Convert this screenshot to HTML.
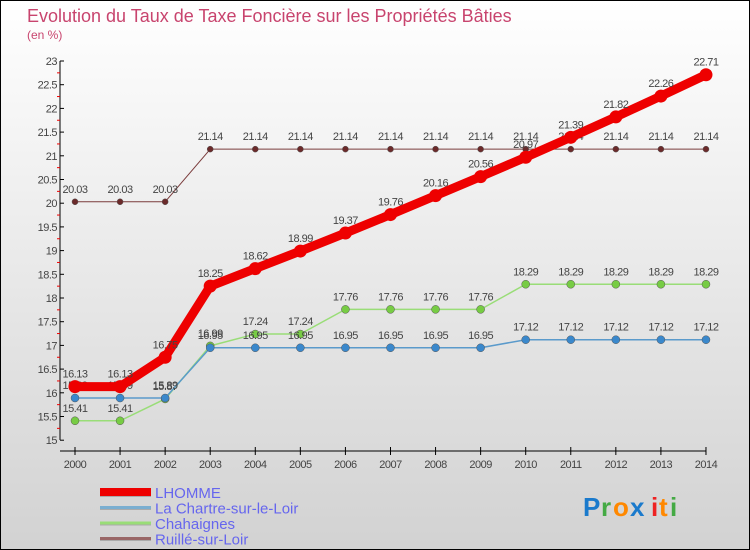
<!DOCTYPE html>
<html><head><meta charset="utf-8"><style>
body{margin:0}
#c{width:750px;height:550px;position:relative;background:linear-gradient(#ffffff,#d2d2d2);box-sizing:border-box;border:1px solid #000;overflow:hidden;font-family:"Liberation Sans",sans-serif}
</style></head><body>
<div id="c">
<svg id="s" width="750" height="550" style="position:absolute;left:-1px;top:-1px"></svg>
</div>
<script>
const years=["2000","2001","2002","2003","2004","2005","2006","2007","2008","2009","2010","2011","2012","2013","2014"];
const lhomme=[16.13,16.13,16.75,18.25,18.62,18.99,19.37,19.76,20.16,20.56,20.97,21.39,21.82,22.26,22.71];
const chartre=[15.89,15.89,15.89,16.95,16.95,16.95,16.95,16.95,16.95,16.95,17.12,17.12,17.12,17.12,17.12];
const chahaignes=[15.41,15.41,15.87,16.99,17.24,17.24,17.76,17.76,17.76,17.76,18.29,18.29,18.29,18.29,18.29];
const ruille=[20.03,20.03,20.03,21.14,21.14,21.14,21.14,21.14,21.14,21.14,21.14,21.14,21.14,21.14,21.14];
const yTicks=["15","15.5","16","16.5","17","17.5","18","18.5","19","19.5","20","20.5","21","21.5","22","22.5","23"];
const s=document.getElementById('s');const NS='http://www.w3.org/2000/svg';
function X(i){return 75+i*45.07}
function Y(v){return 61+(23-v)*47.4}
function el(t,a,p){const e=document.createElementNS(NS,t);for(const k in a)e.setAttribute(k,a[k]);(p||s).appendChild(e);return e}
function tx(x,y,str,a,p){const e=el('text',Object.assign({x:x,y:y},a),p);e.textContent=str;return e}
let t=tx(27,22,"Evolution du Taux de Taxe Foncière sur les Propriétés Bâties",{fill:"#c8446e","font-size":"18"});


t=tx(27,39,"(en %)",{fill:"#c8446e","font-size":"12"});


let a=el('line',{x1:60,y1:61,x2:60,y2:440,stroke:"#000"});


a=el('line',{x1:60,y1:451,x2:706,y2:451,stroke:"#000"});


yTicks.forEach(v=>{const y=Y(+v);el('line',{x1:60,y1:y,x2:64,y2:y,stroke:"#000"});
 const m=Y(+v+0.25); if(+v<23) el('line',{x1:57,y1:m,x2:60,y2:m,stroke:"#e00"});
 const l=tx(57,y+4,v,{fill:"#444","font-size":"11","text-anchor":"end","letter-spacing":"-0.5"});
 
 });
years.forEach((yr,i)=>{el('line',{x1:X(i),y1:447,x2:X(i),y2:455,stroke:"#000"});
 const l=tx(X(i),468,yr,{fill:"#444","font-size":"11","text-anchor":"middle","letter-spacing":"-0.5"});
 
 });
const series=[[ruille,"#7a3b3b",1,"#6b2a2a",3,"ruille-sur-loir"],[chahaignes,"#99dd77",1.5,"#77cc44",4,"chahaignes"],[chartre,"#5a9acb",1.5,"#3a88cc",4,"la-chartre-sur-le-loir"],[lhomme,"#ee0000",9,"#ee0000",6.5,"lhomme"]];
series.forEach(([d,c,w,pc,r,n])=>{
 const g=el('g',{});
 
 
 el('polyline',{points:d.map((v,i)=>X(i)+','+Y(v)).join(' '),fill:'none',stroke:c,'stroke-width':w,'stroke-linejoin':'round'},g);
 d.forEach((v,i)=>{const p=el('circle',{cx:X(i),cy:Y(v),r:r,fill:pc,stroke:n=='lhomme'?'none':'#555','stroke-width':0.5},g);
  
  
  const l=tx(X(i),Y(v)-9,String(v),{fill:"#444","font-size":"11","text-anchor":"middle","letter-spacing":"-0.5"},g);
  
  });
});
const leg=[["LHOMME","#ee0000",8],["La Chartre-sur-le-Loir","#7aaed0",3],["Chahaignes","#99dd77",3],["Ruillé-sur-Loir","#996666",3]];
leg.forEach(([n,c,w],i)=>{const y=492+i*15.5;
 const g=el('g',{});
 
 
 el('line',{x1:100,y1:y+1,x2:151,y2:y+1,stroke:'#aaa','stroke-width':w},g);
 el('line',{x1:100,y1:y,x2:151,y2:y,stroke:c,'stroke-width':w},g);
 tx(155,y+6,n,{fill:"#6666ee","font-size":"15"},g);});
const lg=el('g',{});


[["P","#1a7acc",583],["r","#44aa44",601],["o","#ff8800",613],["x","#1a7acc",630],["i","#ee2222",651],["t","#ff8800",659],["i","#44aa44",670]].forEach(([ch,c,x])=>{tx(x,516,ch,{fill:c,"font-size":"26","font-weight":"bold"},lg)});
</script>
</body></html>
